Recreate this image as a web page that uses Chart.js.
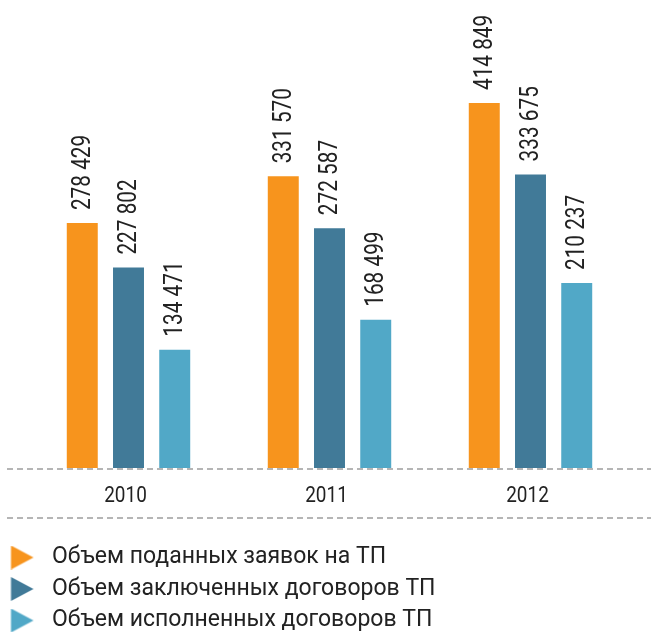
<!DOCTYPE html>
<html>
<head>
<meta charset="utf-8">
<script src="https://cdn.jsdelivr.net/npm/chart.js@4.4.1/dist/chart.umd.min.js"></script>
<style>
  html, body { margin: 0; padding: 0; overflow: hidden; background: #fff; }
  #wrap { position: relative; width: 651px; height: 642px; }
</style>
</head>
<body>
<div id="wrap"><canvas id="chart"></canvas></div>
<script>
const years = ["2010", "2011", "2012"];
const submitted = [278429, 331570, 414849];
const concluded = [227802, 272587, 333675];
const fulfilled = [134471, 168499, 210237];
const seriesNames = [
  "Объем поданных заявок на ТП",
  "Объем заключенных договоров ТП",
  "Объем исполненных договоров ТП"
];
const seriesColors = ["#F7941D", "#417A98", "#51A8C7"];

// triangle markers for the legend (pointing right)
function triangle(color) {
  const c = document.createElement("canvas");
  c.width = 32;
  c.height = 24;
  const g = c.getContext("2d");
  g.fillStyle = color;
  g.beginPath();
  g.moveTo(2.5, 0);
  g.lineTo(25, 12);
  g.lineTo(2.5, 24);
  g.closePath();
  g.fill();
  return c;
}
const markers = seriesColors.map(triangle);

const fmt = v => String(v).replace(/\B(?=(\d{3})+(?!\d))/g, " ");

// rotated value labels above the bars
const valueLabels = {
  id: "valueLabels",
  afterDatasetsDraw(chart) {
    const ctx = chart.ctx;
    ctx.save();
    ctx.fillStyle = "#222";
    ctx.font = "26px Roboto";
    ctx.textAlign = "left";
    ctx.textBaseline = "middle";
    chart.data.datasets.forEach((ds, i) => {
      chart.getDatasetMeta(i).data.forEach((bar, j) => {
        ctx.save();
        ctx.translate(bar.x, bar.y - 13);
        ctx.rotate(-Math.PI / 2);
        ctx.scale(0.8, 1);
        ctx.fillText(fmt(ds.data[j]), 0, 1);
        ctx.restore();
      });
    });
    ctx.restore();
  }
};

// condensed year labels under the groups
const yearLabels = {
  id: "yearLabels",
  afterDraw(chart) {
    const ctx = chart.ctx;
    const x = chart.scales.x;
    ctx.save();
    ctx.fillStyle = "#222";
    ctx.font = "22px Roboto";
    ctx.textAlign = "center";
    ctx.textBaseline = "alphabetic";
    x.ticks.forEach((t, i) => {
      ctx.save();
      ctx.translate(x.getPixelForTick(i) - 3, x.top + 34);
      ctx.scale(0.86, 1);
      ctx.fillText(years[t.value], 0, 0);
      ctx.restore();
    });
    ctx.restore();
  }
};

// dashed base line and separator under the years
const dashedLines = {
  id: "dashedLines",
  afterDraw(chart) {
    const ctx = chart.ctx;
    const x = chart.scales.x;
    const y0 = chart.scales.y.getPixelForValue(0);
    ctx.save();
    ctx.strokeStyle = "#b5b5b5";
    ctx.lineWidth = 2;
    ctx.setLineDash([6, 4]);
    [y0 + 1, x.top + 50].forEach(yy => {
      ctx.beginPath();
      ctx.moveTo(7, yy);
      ctx.lineTo(651, yy);
      ctx.stroke();
    });
    ctx.restore();
  }
};

new Chart(document.getElementById("chart"), {
  type: "bar",
  data: {
    labels: years,
    datasets: [
      { label: seriesNames[0], data: submitted, backgroundColor: seriesColors[0] },
      { label: seriesNames[1], data: concluded, backgroundColor: seriesColors[1] },
      { label: seriesNames[2], data: fulfilled, backgroundColor: seriesColors[2] }
    ]
  },
  options: {
    responsive: true,
    maintainAspectRatio: false,
    animation: false,
    layout: { padding: { top: 0, right: 20, bottom: 0, left: 0 } },
    datasets: {
      bar: { categoryPercentage: 0.69, barPercentage: 0.67 }
    },
    plugins: {
      tooltip: { enabled: false },
      legend: {
        position: "bottom",
        align: "start",
        labels: {
          usePointStyle: true,
          pointStyleWidth: 32,
          padding: 8.5,
          color: "#222",
          font: { family: "Roboto", size: 23 },
          generateLabels(chart) {
            const items = Chart.defaults.plugins.legend.labels.generateLabels(chart);
            items.forEach((it, i) => { it.pointStyle = markers[i]; it.rotation = 0; });
            return items;
          }
        }
      }
    },
    scales: {
      x: {
        grid: { display: false },
        border: { display: false },
        ticks: { display: false },
        afterFit(scale) { scale.height = 69.5; }
      },
      y: {
        min: 0,
        max: 532000,
        grid: { display: false },
        border: { display: false },
        ticks: { display: false },
        afterFit(scale) { scale.width = 28; }
      }
    }
  },
  plugins: [valueLabels, yearLabels, dashedLines]
});
</script>
</body>
</html>
